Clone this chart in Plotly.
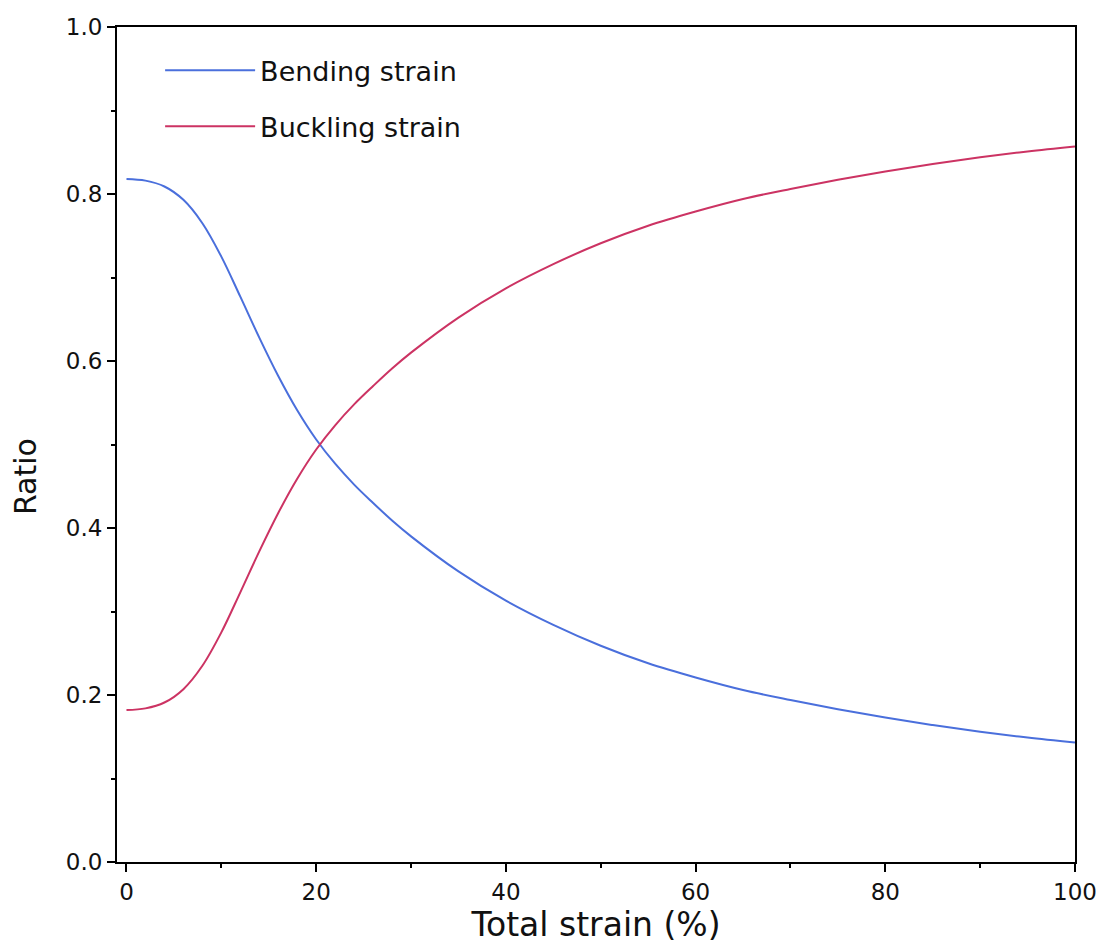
import plotly.graph_objects as go

total_strain = [0, 2, 4, 6, 8, 10, 12, 14, 16, 18, 20, 22, 24, 26, 28, 30,
                35, 40, 45, 50, 55, 60, 65, 70, 75, 80, 85, 90, 95, 100]
bending = [0.818, 0.816, 0.809, 0.793, 0.765, 0.725, 0.677, 0.628, 0.582, 0.541,
           0.506, 0.477, 0.452, 0.430, 0.409, 0.390, 0.348, 0.313, 0.284, 0.259,
           0.238, 0.221, 0.206, 0.194, 0.183, 0.173, 0.164, 0.156, 0.149, 0.143]
buckling = [0.182, 0.184, 0.191, 0.207, 0.235, 0.275, 0.323, 0.372, 0.418, 0.459,
            0.494, 0.523, 0.548, 0.570, 0.591, 0.610, 0.652, 0.687, 0.716, 0.741,
            0.762, 0.779, 0.794, 0.806, 0.817, 0.827, 0.836, 0.844, 0.851, 0.857]

FONT = "DejaVu Sans"
BLUE = "#4a6fdc"
RED = "#cc3363"
TXT = "#111111"

fig = go.Figure()
fig.add_trace(go.Scatter(x=total_strain, y=bending, mode="lines", name="Bending strain",
                         line=dict(color=BLUE, width=2, shape="spline", smoothing=1),
                         legendgroup="a"))
fig.add_trace(go.Scatter(x=total_strain, y=buckling, mode="lines", name="Buckling strain",
                         line=dict(color=RED, width=2, shape="spline", smoothing=1),
                         legendgroup="b"))

axis_common = dict(showline=True, linecolor="black", linewidth=2, mirror=True,
                   ticks="outside", ticklen=8, tickwidth=2, tickcolor="black",
                   showgrid=False, zeroline=False, automargin=False,
                   tickfont=dict(family=FONT, size=23, color=TXT))

fig.update_xaxes(range=[-1, 100], dtick=20, tick0=0,
                 minor=dict(ticks="outside", ticklen=4, tickwidth=2, tickcolor="black", dtick=10),
                 title=dict(text="Total strain (%)", font=dict(family=FONT, size=33, color=TXT),
                            standoff=6),
                 **axis_common)
fig.update_yaxes(range=[0, 1], dtick=0.2, tick0=0, tickformat=".1f",
                 minor=dict(ticks="outside", ticklen=4, tickwidth=2, tickcolor="black", dtick=0.1),
                 **axis_common)

fig.add_annotation(text="Ratio", textangle=-90, xref="paper", yref="paper",
                   x=0, y=0.461, xanchor="center", yanchor="middle", xshift=-92,
                   showarrow=False, font=dict(family=FONT, size=30, color=TXT))

fig.update_layout(
    width=1104, height=944,
    margin=dict(l=109, r=37, t=19, b=90),
    paper_bgcolor="white", plot_bgcolor="white",
    showlegend=True,
    legend=dict(x=0.045, y=0.977, xanchor="left", yanchor="top",
                font=dict(family=FONT, size=27, color=TXT),
                bgcolor="rgba(0,0,0,0)", tracegroupgap=18, itemwidth=90),
)

fig.write_html("out.html")
